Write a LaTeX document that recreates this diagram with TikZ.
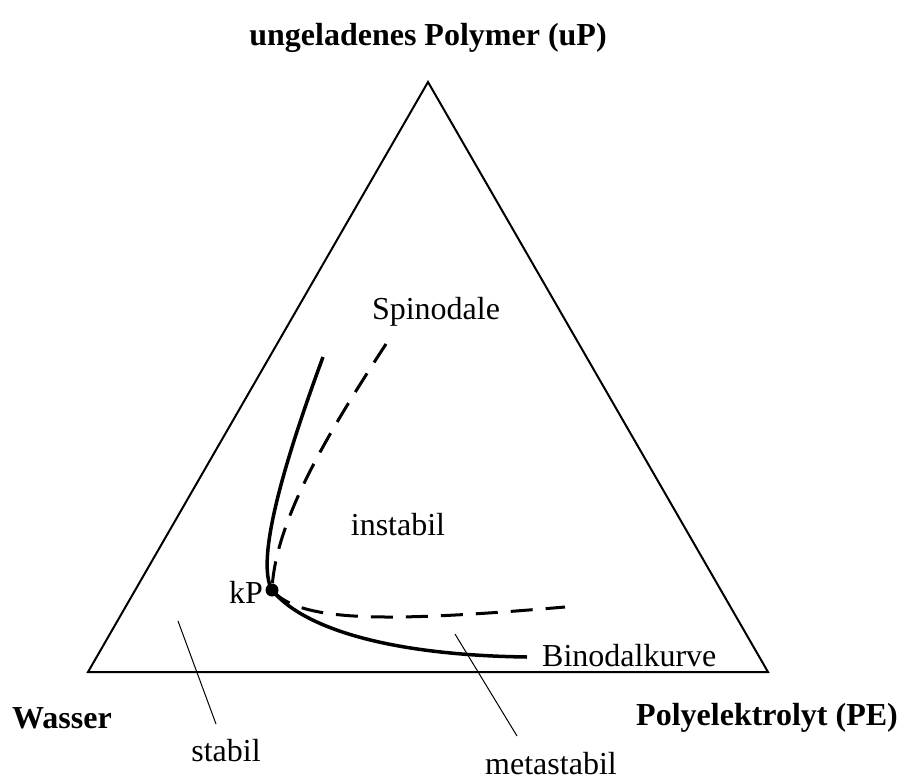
\documentclass[tikz,border=0pt]{standalone}
\usepackage{fontspec}
\setmainfont{Liberation Serif}
\begin{document}
\begin{tikzpicture}[x=1pt,y=-1pt,
  lbl/.style={font=\fontsize{32}{36}\selectfont, inner sep=0pt},
  blbl/.style={font=\fontsize{32}{36}\selectfont\bfseries, inner sep=0pt},
  tri/.style={line width=2pt},
  bino/.style={line width=3.5pt},
  spino/.style={line width=3pt, dash pattern=on 22pt off 13pt},
  leader/.style={line width=1pt}]
\useasboundingbox (0,0) rectangle (902,782);
\coordinate (top) at (428,82);
\coordinate (left) at (88,672);
\coordinate (right) at (768,672);
\draw[tri, line join=miter] (top) -- (left) -- (right) -- cycle;
\node[blbl] (tuP) at (428,38) {ungeladenes Polymer (uP)};
\node[blbl] (tW) at (62,718) {Wasser};
\node[blbl, anchor=east] (tPE) at (898,718) {Polyelektrolyt (PE)};
\coordinate (kP) at (272,590);
\coordinate (b1) at (323,357);
\coordinate (b2) at (527,657);
\coordinate (s1) at (386,344);
\coordinate (s2) at (565,607);
\draw[bino] (b1) .. controls (285,460) and (255,560) .. (kP);
\draw[bino] (kP) .. controls (300,625) and (380,655) .. (b2);
\draw[spino] (s1) .. controls (330,430) and (275,520) .. (kP);
\draw[spino] (kP) .. controls (300,623) and (390,622) .. (s2);
\fill (kP) circle (6.5pt);
\node[lbl, anchor=east] (tkP) at (263,592) {kP};
\node[lbl] (tSp) at (436,312) {Spinodale};
\node[lbl] (tIn) at (398,525) {instabil};
\node[lbl, anchor=west] (tBi) at (542,656) {Binodalkurve};
\node[lbl] (tSt) at (226,751) {stabil};
\node[lbl] (tMe) at (551,764) {metastabil};
\coordinate (l1) at (178,621);
\coordinate (l2) at (216,724);
\coordinate (m1) at (455,634);
\coordinate (m2) at (517,736);
\draw[leader] (l1) -- (l2);
\draw[leader] (m1) -- (m2);
\end{tikzpicture}
\end{document}
